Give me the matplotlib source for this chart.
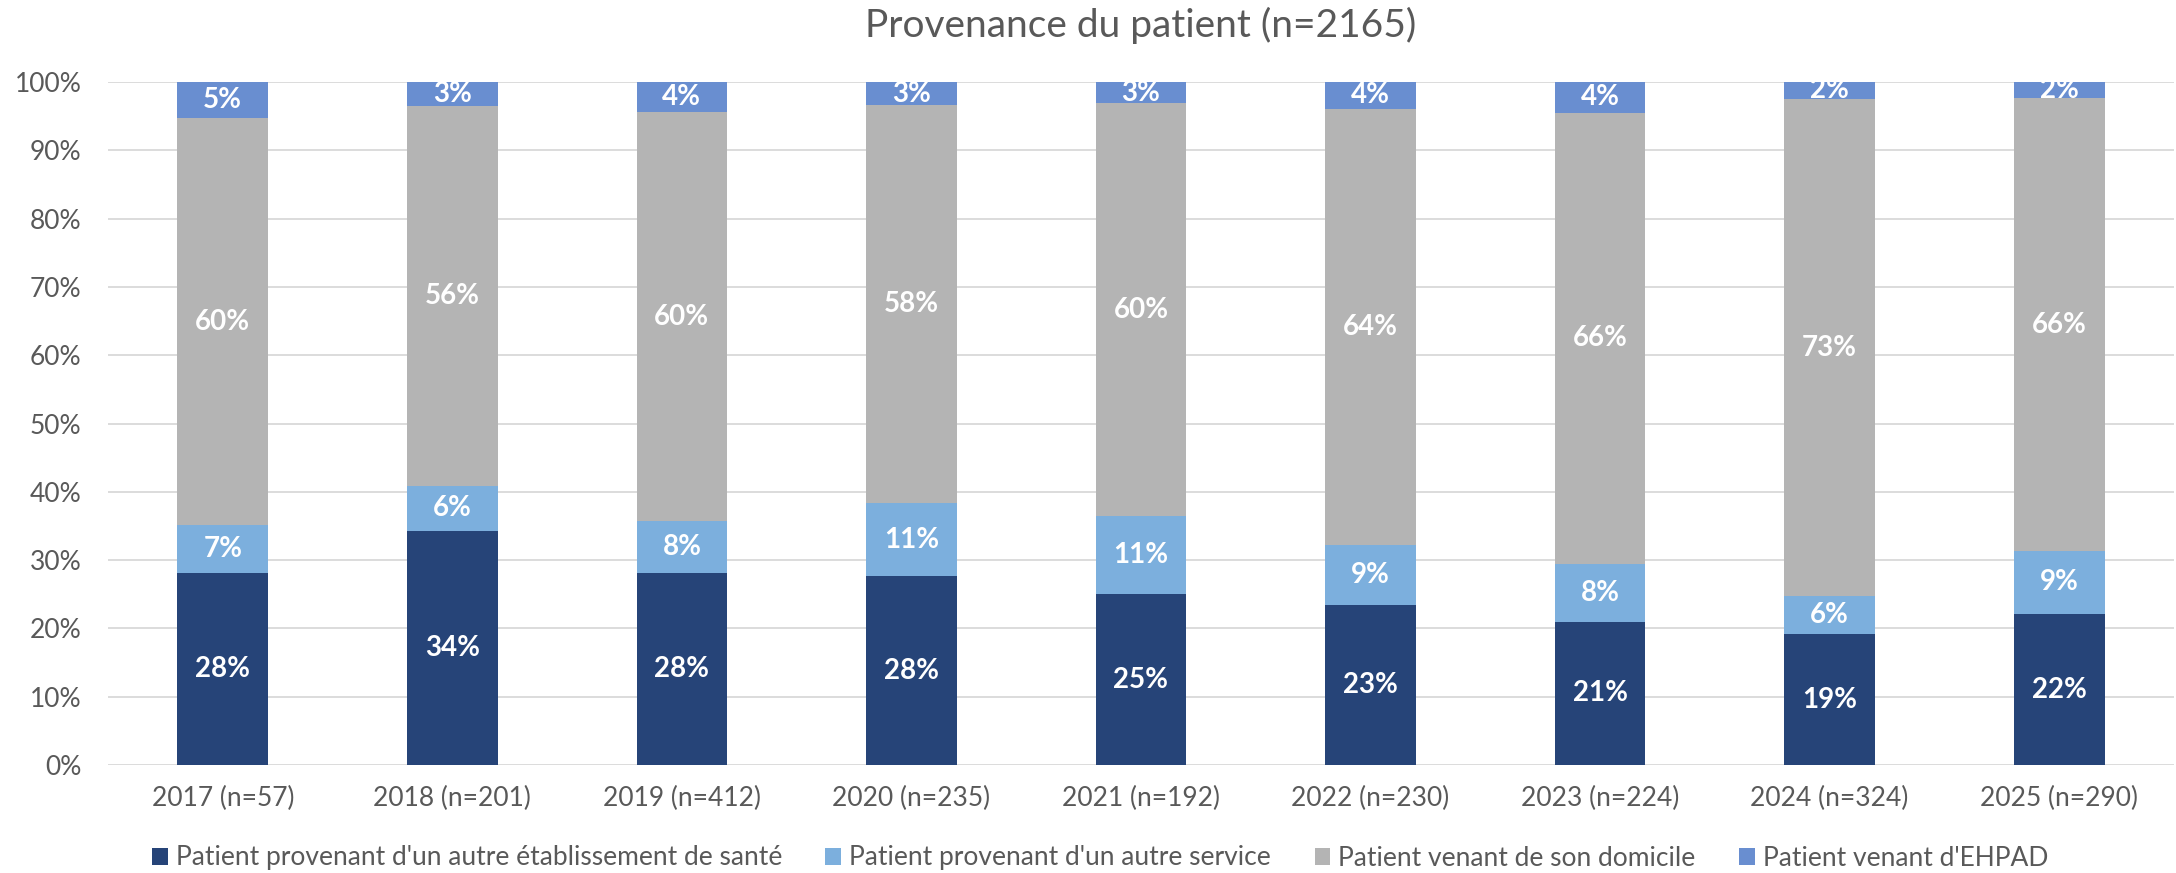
import matplotlib
matplotlib.use("Agg")
import matplotlib.pyplot as plt
from matplotlib.patches import Patch

plt.rcParams['font.family'] = ['Lato', 'DejaVu Sans']

categories = ["2017 (n=57)", "2018 (n=201)", "2019 (n=412)", "2020 (n=235)",
              "2021 (n=192)", "2022 (n=230)", "2023 (n=224)", "2024 (n=324)",
              "2025 (n=290)"]
series_names = ["Patient provenant d'un autre établissement de santé",
                "Patient provenant d'un autre service",
                "Patient venant de son domicile",
                "Patient venant d'EHPAD"]
etablissement = [28.07, 34.33, 28.16, 27.66, 25.00, 23.48, 20.98, 19.14, 22.07]
service = [7.02, 6.47, 7.52, 10.64, 11.46, 8.70, 8.48, 5.56, 9.31]
domicile = [59.65, 55.72, 59.95, 58.30, 60.42, 63.91, 66.07, 72.84, 66.21]
ehpad = [5.26, 3.48, 4.37, 3.40, 3.12, 3.91, 4.46, 2.47, 2.41]
title = "Provenance du patient (n=2165)"

colors = ["#264478", "#7CAFDD", "#B4B4B4", "#698ED0"]
series = [etablissement, service, domicile, ehpad]

W, H = 2176, 873
fig = plt.figure(figsize=(W / 100, H / 100), dpi=100)
ax = fig.add_axes([108 / W, 1 - 765 / H, (2174 - 108) / W, (765 - 82) / H])

x = list(range(len(categories)))
bottom = [0.0] * len(categories)
for vals, col in zip(series, colors):
    ax.bar(x, vals, width=0.395, bottom=bottom, color=col, zorder=3)
    for xi, b, v in zip(x, bottom, vals):
        ax.text(xi, b + v / 2, f"{round(v):d}%", ha="center", va="center",
                color="white", fontsize=20, fontweight="bold", zorder=4)
    bottom = [b + v for b, v in zip(bottom, vals)]

ax.set_xlim(-0.5, len(categories) - 0.5)
ax.set_ylim(0, 100)
ax.set_yticks(range(0, 101, 10))
ax.set_yticklabels([f"{t}%" for t in range(0, 101, 10)])
ax.set_xticks(x)
ax.set_xticklabels(categories)
ax.tick_params(axis="both", length=0, labelsize=19, colors="#595959")
ax.tick_params(axis="y", pad=19)
ax.tick_params(axis="x", pad=15)
ax.grid(axis="y", color="#D9D9D9", linewidth=1.3, zorder=0)
for s in ax.spines.values():
    s.set_visible(False)

fig.text(1141 / W, 1 - 25 / H, title, ha="center", va="center",
         fontsize=28, color="#595959")

handles = [Patch(facecolor=c, edgecolor="none") for c in colors]
fig.legend(handles, series_names, loc="center", ncol=4,
           bbox_to_anchor=(1100 / W, 1 - 858 / H), frameon=False,
           fontsize=19, labelcolor="#595959", handlelength=0.6,
           handleheight=0.6, handletextpad=0.3, columnspacing=1.65)

fig.savefig("out.png", dpi=100)
